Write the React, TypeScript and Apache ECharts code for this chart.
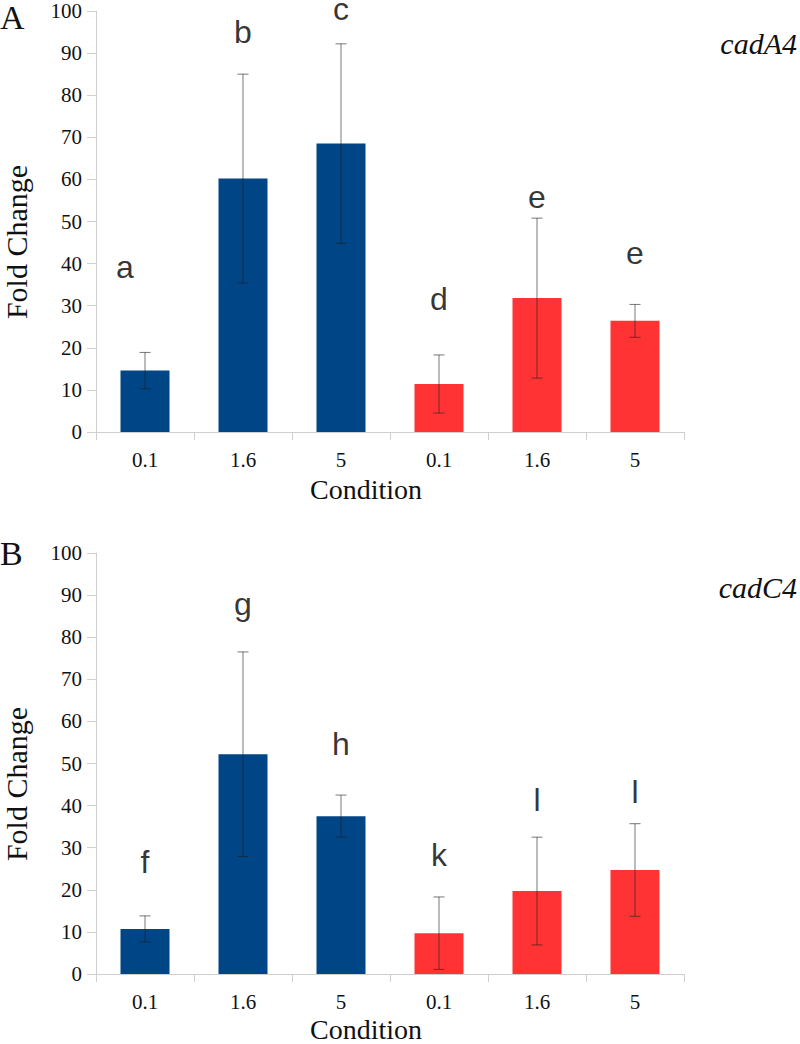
import React, { useEffect, useRef } from 'react';
import * as echarts from 'echarts';

const categories = ['0.1', '1.6', '5', '0.1', '1.6', '5'];
const barColors = ['#004586', '#004586', '#004586', '#ff3333', '#ff3333', '#ff3333'];
const yTicks = { min: 0, max: 100, interval: 10 };

const cadA4Values = [14.6, 60.2, 68.5, 11.4, 31.8, 26.4];
const cadA4Errors = [4.3, 24.8, 23.7, 6.9, 19.0, 3.9];
const cadA4Letters = ['a', 'b', 'c', 'd', 'e', 'e'];
const cadA4LetterPos = [39.2, 95.0, 100.4, 31.6, 55.8, 42.5];

const cadC4Values = [10.7, 52.2, 37.5, 9.7, 19.7, 24.7];
const cadC4Errors = [3.1, 24.3, 5.0, 8.6, 12.8, 11.0];
const cadC4Letters = ['f', 'g', 'h', 'k', 'l', 'l'];
const cadC4LetterPos = [26.6, 88.0, 54.6, 28.3, 41.3, 43.2];

const SERIF = 'Liberation Serif';
const SANS = 'Liberation Sans';
const AXIS_GRAY = '#cfcfcf';

function panelSeries(idx: number, values: number[], errors: number[], letters: string[], letterPos: number[]) {
  return [
    {
      type: 'bar',
      xAxisIndex: idx,
      yAxisIndex: idx,
      barWidth: '50%',
      data: values.map((v, i) => ({ value: v, itemStyle: { color: barColors[i] } })),
      z: 2,
    },
    {
      type: 'custom',
      xAxisIndex: idx,
      yAxisIndex: idx,
      encode: { x: 0, y: [1, 2] },
      data: values.map((v, i) => [i, v - errors[i], v + errors[i]]),
      z: 3,
      silent: true,
      renderItem: (params: any, api: any) => {
        const x = api.value(0);
        const lo = api.coord([x, api.value(1)]);
        const hi = api.coord([x, api.value(2)]);
        const hw = 5.5;
        const style = { stroke: 'rgba(30,30,30,0.6)', lineWidth: 1 };
        return {
          type: 'group',
          children: [
            { type: 'line', shape: { x1: lo[0], y1: lo[1], x2: hi[0], y2: hi[1] }, style },
            { type: 'line', shape: { x1: hi[0] - hw, y1: hi[1], x2: hi[0] + hw, y2: hi[1] }, style },
            { type: 'line', shape: { x1: lo[0] - hw, y1: lo[1], x2: lo[0] + hw, y2: lo[1] }, style },
          ],
        };
      },
    },
    {
      type: 'scatter',
      xAxisIndex: idx,
      yAxisIndex: idx,
      symbolSize: 1,
      clip: false,
      silent: true,
      itemStyle: { color: 'rgba(0,0,0,0)' },
      data: letterPos.map((p, i) =>
        idx === 0 && i === 0 ? { value: [i, p], label: { offset: [-20, 0] } } : { value: [i, p] }
      ),
      label: {
        show: true,
        position: 'inside',
        formatter: (p: any) => letters[p.dataIndex],
        fontSize: 32,
        fontFamily: SANS,
        color: '#000',
      },
      z: 4,
    },
  ];
}

function xAxisCfg(gridIndex: number) {
  return {
    type: 'category',
    gridIndex,
    data: categories,
    boundaryGap: true,
    axisLine: { show: true, lineStyle: { color: AXIS_GRAY, width: 1 } },
    axisTick: { show: true, length: 8, alignWithLabel: false, lineStyle: { color: AXIS_GRAY } },
    axisLabel: { fontFamily: SERIF, fontSize: 21, color: '#111', margin: 17 },
    splitLine: { show: false },
  };
}

function yAxisCfg(gridIndex: number) {
  return {
    type: 'value',
    gridIndex,
    min: yTicks.min,
    max: yTicks.max,
    interval: yTicks.interval,
    axisLine: { show: true, lineStyle: { color: AXIS_GRAY, width: 1 } },
    axisTick: { show: true, length: 9, lineStyle: { color: AXIS_GRAY } },
    axisLabel: { fontFamily: SERIF, fontSize: 21, color: '#111', margin: 14 },
    splitLine: { show: false },
  };
}

function txt(text: string, x: number, y: number, font: string, align: string, rotation = 0) {
  return {
    type: 'text',
    x,
    y,
    rotation,
    silent: true,
    style: { text, font, fill: '#111', textAlign: align, textVerticalAlign: 'middle' },
  };
}

export default function App() {
  const ref = useRef<HTMLDivElement>(null);
  useEffect(() => {
    document.body.style.margin = '0';
    if (!ref.current) return;
    const chart = echarts.init(ref.current, undefined, { renderer: 'svg' });
    chart.setOption({
      animation: false,
      backgroundColor: '#ffffff',
      textStyle: { fontFamily: SERIF },
      grid: [
        { left: 96, top: 11, width: 588, height: 421 },
        { left: 96, top: 553, width: 588, height: 421 },
      ],
      xAxis: [xAxisCfg(0), xAxisCfg(1)],
      yAxis: [yAxisCfg(0), yAxisCfg(1)],
      series: [
        ...panelSeries(0, cadA4Values, cadA4Errors, cadA4Letters, cadA4LetterPos),
        ...panelSeries(1, cadC4Values, cadC4Errors, cadC4Letters, cadC4LetterPos),
      ],
      graphic: [
        txt('A', 0, 17, `34px "${SERIF}"`, 'left'),
        txt('B', 0, 553, `34px "${SERIF}"`, 'left'),
        txt('cadA4', 797, 43, `italic 30px "${SERIF}"`, 'right'),
        txt('cadC4', 797, 587, `italic 30px "${SERIF}"`, 'right'),
        txt('Fold Change', 16, 242, `30px "${SERIF}"`, 'center', Math.PI / 2),
        txt('Fold Change', 16, 784, `30px "${SERIF}"`, 'center', Math.PI / 2),
        txt('Condition', 366, 489, `28px "${SERIF}"`, 'center'),
        txt('Condition', 366, 1029, `28px "${SERIF}"`, 'center'),
      ],
    });
    return () => chart.dispose();
  }, []);
  return <div ref={ref} style={{ width: 800, height: 1044 }} />;
}
